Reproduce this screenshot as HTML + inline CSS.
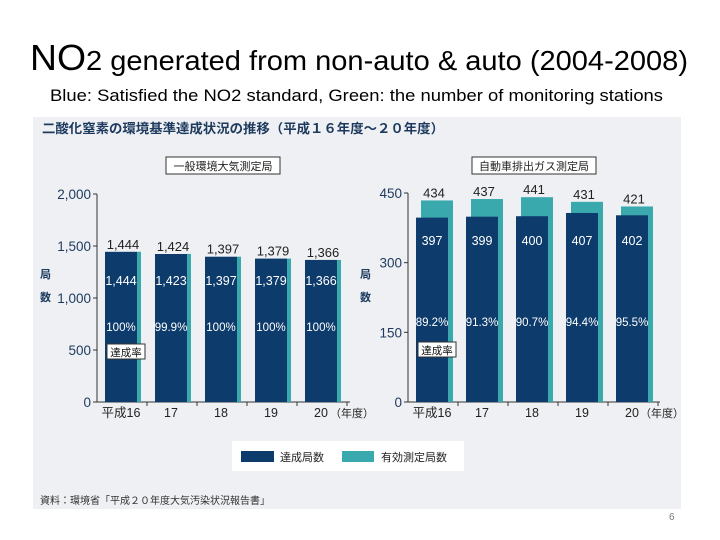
<!DOCTYPE html>
<html><head><meta charset="utf-8"><style>
html,body{margin:0;padding:0;background:#fff;width:720px;height:540px;overflow:hidden}
svg{display:block;font-family:"Liberation Sans","Noto Sans CJK JP",sans-serif}
</style></head><body>
<svg id="s" width="720" height="540" viewBox="0 0 720 540" xmlns="http://www.w3.org/2000/svg">
<text x="30" y="70" font-size="28" fill="#000" textLength="658" lengthAdjust="spacingAndGlyphs"><tspan font-size="36">NO</tspan>2 generated from non-auto &amp; auto  (2004-2008)</text>
<text x="50" y="101" font-size="17" fill="#000" textLength="613" lengthAdjust="spacingAndGlyphs">Blue: Satisfied the NO2 standard, Green: the number of monitoring stations</text>
<rect x="33" y="117" width="648" height="392" fill="#eef0f3"/>
<text x="42" y="133" font-size="13" fill="#1d3a5e" font-weight="bold" textLength="402" lengthAdjust="spacingAndGlyphs">二酸化窒素の環境基準達成状況の推移（平成１６年度～２０年度）</text>
<g id="plots"></g>
<rect x="232" y="441" width="232" height="30" fill="#fff"/>
<rect x="241" y="451" width="33" height="11" fill="#0d3b6b"/>
<text x="280" y="461" font-size="11" fill="#222">達成局数</text>
<rect x="342" y="451" width="32" height="11" fill="#3aa9ad"/>
<text x="381" y="461" font-size="11" fill="#222">有効測定局数</text>
<text x="40" y="504" font-size="10" fill="#333">資料：環境省「平成２０年度大気汚染状況報告書」</text>
<text x="669" y="520" font-size="10" fill="#777">6</text>
</svg>
<script>
const categories=["平成16","17","18","19","20"];
const genValid=[1444,1424,1397,1379,1366];
const genAchieved=[1444,1423,1397,1379,1366];
const genRate=["100%","99.9%","100%","100%","100%"];
const autoValid=[434,437,441,431,421];
const autoAchieved=[397,399,400,407,402];
const autoRate=["89.2%","91.3%","90.7%","94.4%","95.5%"];
const genTicks=[0,500,1000,1500,2000];
const genTickLabels=["0","500","1,000","1,500","2,000"];
const autoTicks=[0,150,300,450];
const autoTickLabels=["0","150","300","450"];

const NS="http://www.w3.org/2000/svg";
const root=document.getElementById('plots');
function mk(tag,attrs,txt,parent){const e=document.createElementNS(NS,tag);for(const k in attrs)e.setAttribute(k,attrs[k]);if(txt!==undefined)e.textContent=txt;(parent||root).appendChild(e);return e;}
const fmt=v=>v.toLocaleString('en-US');

function drawChart(o){
  const g=mk('g',{});
  
  
  const y=v=>o.y0-(v/o.max)*(o.y0-o.yTop);
  const x=i=>o.x0+o.first+i*50;
  const lb=mk('rect',{x:o.labelX,y:157,width:o.labelW,height:17,fill:'#fff',stroke:'#333','stroke-width':1},undefined,g);
  
  
  const lt=mk('text',{x:o.labelX+o.labelW/2,y:170,'font-size':11,'text-anchor':'middle',fill:'#222'},o.label,g);
  
  
  const ax=mk('path',{d:`M${o.x0} ${o.yTop}V${o.y0}H${o.xEnd}`,stroke:'#333',fill:'none','stroke-width':1},undefined,g);
  
  
  o.ticks.forEach((t,i)=>{
    mk('line',{x1:o.x0-4,x2:o.x0,y1:y(t),y2:y(t),stroke:'#333'},undefined,g);
    const tl=mk('text',{x:o.x0-6,y:y(t)+5,'font-size':13.5,'text-anchor':'end',fill:'#1d3a5e'},o.tickLabels[i],g);
    
    
  });
  for(let i=1;i<=5;i++){mk('line',{x1:o.x0+i*50,x2:o.x0+i*50,y1:o.y0,y2:o.y0+4,stroke:'#333'},undefined,g);}
  const yt1=mk('text',{x:o.ylabX,y:278,'font-size':11,fill:'#1d3a5e','font-weight':'bold'},'局',g);
  
  
  mk('text',{x:o.ylabX,y:301,'font-size':11,fill:'#1d3a5e','font-weight':'bold'},'数',g);
  categories.forEach((c,i)=>{
    const bx=x(i);
    const tv=mk('rect',{x:bx+o.tOff,y:y(o.valid[i]),width:o.tW,height:o.y0-y(o.valid[i]),fill:'#3aa9ad'},undefined,g);
    
    
    const dk=mk('rect',{x:bx,y:y(o.ach[i]),width:32,height:o.y0-y(o.ach[i]),fill:'#0d3b6b'},undefined,g);
    
    
    const vl=mk('text',{x:bx+18,y:y(o.valid[i])-3,'font-size':13,'text-anchor':'middle',fill:'#222'},fmt(o.valid[i]),g);
    
    
    const al=mk('text',{x:bx+16,y:o.achLabY,'font-size':12.5,'text-anchor':'middle',fill:'#fff'},fmt(o.ach[i]),g);
    
    
    const rl=mk('text',{x:bx+16,y:o.rateY,'font-size':11.5,'text-anchor':'middle',fill:'#fff'},o.rate[i],g);
    
    
    const xl=mk('text',{x:bx+16,y:o.y0+15,'font-size':12.5,'text-anchor':'middle',fill:'#222'},c,g);
    
    
  });
  mk('text',{x:o.xEnd-20,y:o.y0+15,'font-size':11,fill:'#222'},'（年度）',g);
  const cb=mk('rect',{x:o.x0+10,y:o.calloutY,width:38,height:15,fill:'#fff',stroke:'#333'},undefined,g);
  
  
  mk('text',{x:o.x0+29,y:o.calloutY+12,'font-size':10.5,'text-anchor':'middle',fill:'#111'},'達成率',g);
}
drawChart({name:'general-stations-chart',x0:97,xEnd:350,y0:402,yTop:194,max:2000,first:8,tOff:32,tW:4,
  valid:genValid,ach:genAchieved,rate:genRate,ticks:genTicks,tickLabels:genTickLabels,
  label:'一般環境大気測定局',labelX:166,labelW:114,ylabX:40,achLabY:285,rateY:331,calloutY:344});
drawChart({name:'roadside-stations-chart',x0:408,xEnd:660,y0:402,yTop:193,max:450,first:8,tOff:5,tW:32,
  valid:autoValid,ach:autoAchieved,rate:autoRate,ticks:autoTicks,tickLabels:autoTickLabels,
  label:'自動車排出ガス測定局',labelX:472,labelW:124,ylabX:360,achLabY:245,rateY:326,calloutY:342});
</script>
</body></html>
